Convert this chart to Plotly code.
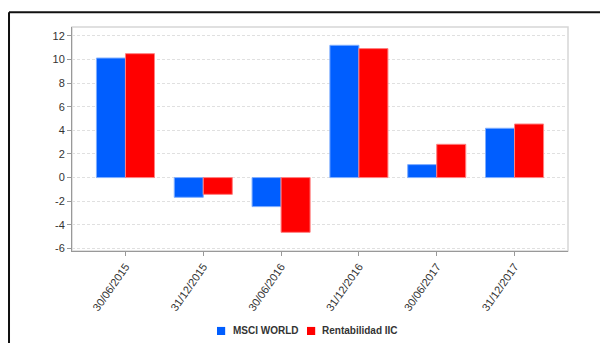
import plotly.graph_objects as go

dates = ["30/06/2015", "31/12/2015", "30/06/2016", "31/12/2016", "30/06/2017", "31/12/2017"]
msci_world = [10.13, -1.67, -2.46, 11.21, 1.10, 4.18]
rentabilidad_iic = [10.50, -1.42, -4.64, 10.93, 2.82, 4.54]
y_ticks = [-6, -4, -2, 0, 2, 4, 6, 8, 10, 12]
y_tick_labels = ["-6", "-4", "-2", "0", "2", "4", "6", "8", "10", "12"]

series_names = ["MSCI WORLD", "Rentabilidad IIC"]
series_colors = ["#005EFF", "#FF0000"]
series_edges = ["#7FAEFF", "#FF8080"]

fig = go.Figure()
for name, values, color, edge in zip(series_names, [msci_world, rentabilidad_iic],
                                      series_colors, series_edges):
    fig.add_trace(go.Bar(
        x=dates, y=values, name=name,
        marker=dict(color=color, line=dict(color=edge, width=1)),
    ))

# compact legend row below the chart: small square swatch + label
legend_shapes = []
legend_notes = []
swatch_x = [0.2923, 0.4738]
label_x = [0.3206, 0.5010]
for sx, lx, name, color in zip(swatch_x, label_x, series_names, series_colors):
    legend_shapes.append(dict(type="rect", xref="paper", yref="paper",
                              x0=sx, x1=sx + 0.0165, y0=-0.375, y1=-0.339,
                              fillcolor=color, line=dict(width=0)))
    legend_notes.append(dict(xref="paper", yref="paper", x=lx, y=-0.357,
                             xanchor="left", yanchor="middle", showarrow=False,
                             text=f"<b>{name}</b>",
                             font=dict(size=10, color="#333333")))

fig.update_layout(
    width=600, height=343,
    margin=dict(l=72, r=32, t=27, b=92, autoexpand=False),
    paper_bgcolor="white", plot_bgcolor="white",
    barmode="group", bargap=0.254, bargroupgap=0,
    font=dict(family="Liberation Sans, Arial, sans-serif", size=11, color="#333333"),
    showlegend=False,
    xaxis=dict(
        type="category", range=[-0.687, 5.687], automargin=False,
        tickangle=-55, ticks="outside", ticklen=4, tickcolor="#999999",
        showline=True, linecolor="#999999", linewidth=1,
        showgrid=False, zeroline=False,
    ),
    yaxis=dict(
        range=[-6.22, 12.76], tickvals=y_ticks, ticktext=y_tick_labels, automargin=False,
        ticks="outside", ticklen=4, tickcolor="#999999",
        showline=True, linecolor="#999999", linewidth=1,
        showgrid=True, gridcolor="#E0E0E0", griddash="3px,2px", gridwidth=1,
        zeroline=False,
    ),
    annotations=legend_notes,
    shapes=[
        # light frame around the plotting area
        dict(type="rect", xref="paper", yref="paper", x0=0, x1=1, y0=0, y1=1,
             line=dict(color="#D6D6D6", width=1.5), layer="below"),
        # outer panel border, top and left edges
        dict(type="line", xref="paper", yref="paper", x0=-0.127, x1=1.1, y0=1.0656, y1=1.0656,
             line=dict(color="#111111", width=2)),
        dict(type="line", xref="paper", yref="paper", x0=-0.127, x1=-0.127, y0=1.0656, y1=-0.45,
             line=dict(color="#111111", width=2)),
    ] + legend_shapes,
)

fig.write_html("out.html")
